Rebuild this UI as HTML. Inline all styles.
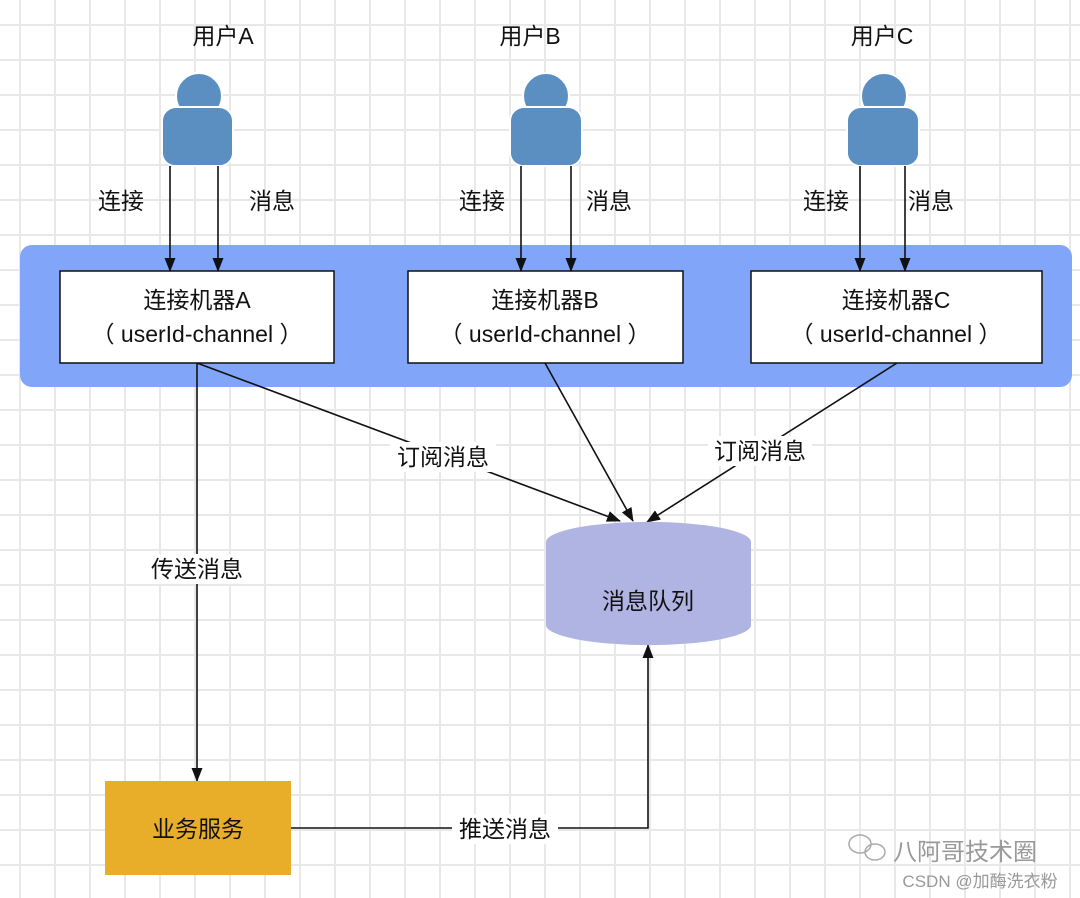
<!DOCTYPE html>
<html><head><meta charset="utf-8"><style>
body{margin:0;width:1080px;height:898px;overflow:hidden;background:#fff;
background-image:linear-gradient(#e8e8e8 2px,transparent 2px),linear-gradient(90deg,#e8e8e8 2px,transparent 2px);
background-size:35px 35px;background-position:19px 24px;}
</style></head><body>
<svg width="1080" height="898" style="position:absolute;left:0;top:0" font-family="Liberation Sans, Noto Sans CJK SC, sans-serif">
<defs><marker id="a" markerWidth="14" markerHeight="14" refX="13" refY="7" orient="auto" markerUnits="userSpaceOnUse"><path d="M0,1.5 L14,7 L0,12.5 Z" fill="#111"/></marker></defs>
<rect x="20" y="245" width="1052" height="142" rx="12" fill="#81a5f8"/>
<g fill="#fff" stroke="#111" stroke-width="1.5">
<rect x="60" y="271" width="274" height="92"/><rect x="408" y="271" width="275" height="92"/><rect x="751" y="271" width="291" height="92"/></g>
<g font-size="23" fill="#111" text-anchor="middle">
<text x="197" y="308">连接机器A</text><text x="197" y="342">（ userId-channel ）</text>
<text x="545" y="308">连接机器B</text><text x="545" y="342">（ userId-channel ）</text>
<text x="896" y="308">连接机器C</text><text x="896" y="342">（ userId-channel ）</text>
<text x="223" y="44">用户A</text><text x="530" y="44">用户B</text><text x="882" y="44">用户C</text>
<text x="121" y="209">连接</text><text x="272" y="209">消息</text>
<text x="482" y="209">连接</text><text x="609" y="209">消息</text>
<text x="826" y="209">连接</text><text x="931" y="209">消息</text>
</g>
<g fill="#5b8fc2" stroke="#fff" stroke-width="2">
<circle cx="199" cy="96" r="23"/><rect x="162" y="107" width="71" height="59" rx="14"/>
<circle cx="546" cy="96" r="23"/><rect x="510" y="107" width="72" height="59" rx="14"/>
<circle cx="884" cy="96" r="23"/><rect x="847" y="107" width="72" height="59" rx="14"/>
</g>
<g fill="#5b8fc2"><rect x="163" y="120" width="69" height="45" rx="12"/><rect x="511" y="120" width="70" height="45" rx="12"/><rect x="848" y="120" width="70" height="45" rx="12"/></g>
<g stroke="#111" stroke-width="1.6" fill="none" marker-end="url(#a)">
<line x1="170" y1="166" x2="170" y2="271"/><line x1="218" y1="166" x2="218" y2="271"/>
<line x1="521" y1="166" x2="521" y2="271"/><line x1="571" y1="166" x2="571" y2="271"/>
<line x1="860" y1="166" x2="860" y2="271"/><line x1="905" y1="166" x2="905" y2="271"/>
<line x1="197" y1="363" x2="197" y2="781"/>
<line x1="197" y1="363" x2="620" y2="521"/>
<line x1="545" y1="363" x2="633" y2="521"/>
<line x1="897" y1="363" x2="647" y2="522"/>
<polyline points="291,828 648,828 648,645"/>
</g>
<path d="M546,542 A102,20 0 0 1 751,542 L751,625 A102,20 0 0 1 546,625 Z" fill="#b0b4e3"/>
<rect x="105" y="781" width="186" height="94" fill="#e9ae29"/>
<g font-size="23" fill="#111" text-anchor="middle">
<rect x="390" y="442" width="106" height="30" fill="#fff"/><text x="443" y="465">订阅消息</text>
<rect x="708" y="436" width="104" height="30" fill="#fff"/><text x="760" y="459">订阅消息</text>
<rect x="144" y="554" width="106" height="30" fill="#fff"/><text x="197" y="577">传送消息</text>
<rect x="452" y="814" width="106" height="30" fill="#fff"/><text x="505" y="837">推送消息</text>
<text x="648" y="609">消息队列</text>
<text x="198" y="837">业务服务</text>
<text x="965" y="860" font-size="24" fill="#999">八阿哥技术圈</text>
<text x="980" y="887" font-size="17" fill="#999">CSDN @加酶洗衣粉</text>
</g>
<g fill="none" stroke="#aaa" stroke-width="1.5"><ellipse cx="860" cy="844" rx="11" ry="9"/><ellipse cx="875" cy="852" rx="10" ry="8"/></g>
</svg>
</body></html>
